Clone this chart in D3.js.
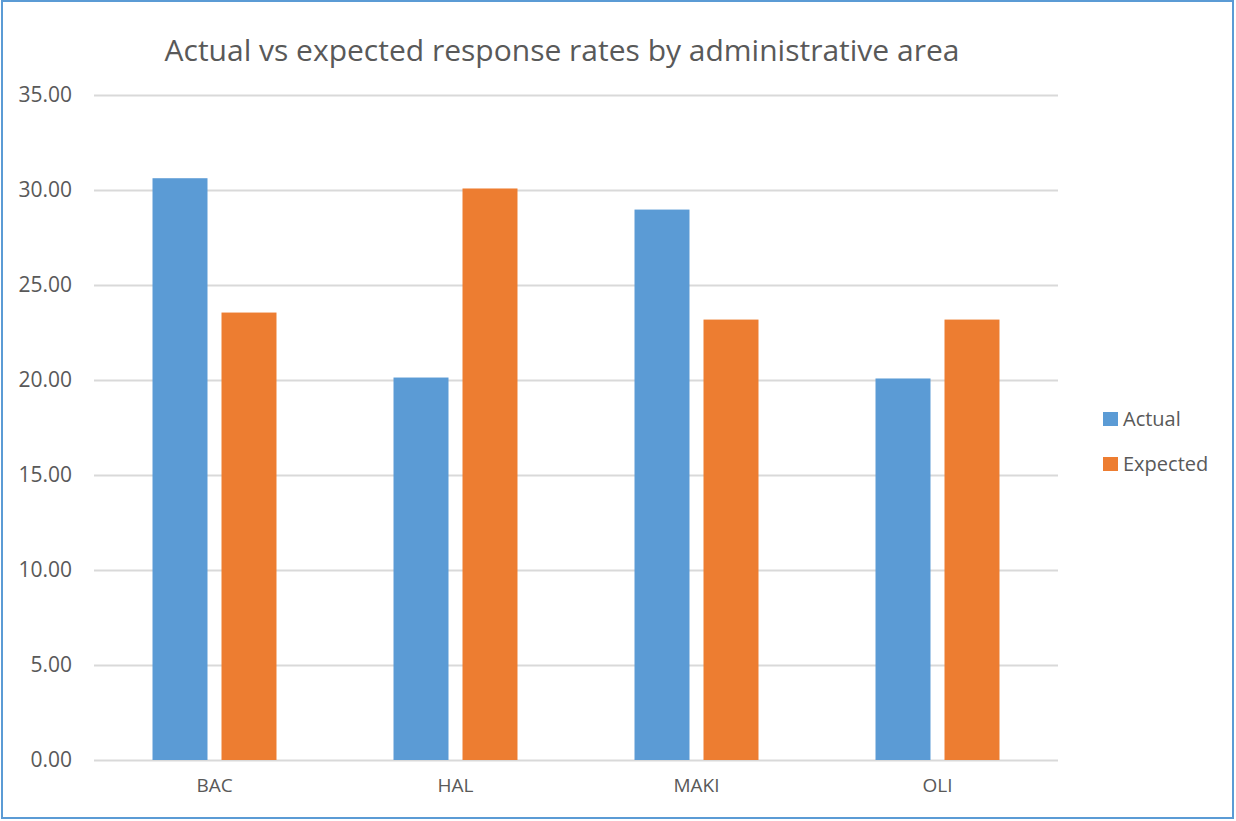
<!DOCTYPE html>
<html>
<head>
<meta charset="utf-8">
<script src="https://cdn.jsdelivr.net/npm/d3@7"></script>
<style>
  body { margin: 0; background: #fff; }
  svg { display: block; font-family: "Open Sans", sans-serif; }
</style>
</head>
<body>
<div id="chart"></div>
<script>
// data
var categories = ["BAC", "HAL", "MAKI", "OLI"];
var seriesNames = ["Actual", "Expected"];
var actual = [30.62, 20.13, 28.97, 20.08];
var expected = [23.55, 30.08, 23.18, 23.18];
var yTicks = [0, 5, 10, 15, 20, 25, 30, 35];

var colors = {"Actual": "#5b9bd5", "Expected": "#ed7d31"};
var width = 1236, height = 821;
var margin = {top: 95, right: 178, bottom: 61, left: 94};

var data = categories.map(function(c, i) {
    return {category: c, Actual: actual[i], Expected: expected[i]};
});

var svg = d3.select("#chart")
    .append("svg")
    .attr("width", width)
    .attr("height", height);

// outer frame
svg.append("rect")
    .attr("x", 2).attr("y", 1)
    .attr("width", 1231).attr("height", 817)
    .attr("fill", "#fff")
    .attr("stroke", "#5b9bd5")
    .attr("stroke-width", 2);

var x0 = d3.scaleBand()
    .domain(categories)
    .range([margin.left, width - margin.right])
    .padding(0);

var x1 = d3.scaleBand()
    .domain(seriesNames)
    .range([0, x0.bandwidth()])
    .paddingInner(0.203)
    .paddingOuter(0.848);

var y = d3.scaleLinear()
    .domain([0, 35])
    .range([height - margin.bottom, margin.top]);

// gridlines + y labels
var yAxis = svg.append("g")
    .attr("transform", "translate(" + margin.left + ",0)")
    .call(d3.axisLeft(y).tickValues(yTicks).tickFormat(d3.format(".2f"))
        .tickSize(-(width - margin.left - margin.right)).tickPadding(22));
yAxis.attr("font-family", null).attr("font-size", null);
yAxis.select(".domain").remove();
yAxis.selectAll("line").attr("stroke", "#d9d9d9").attr("stroke-width", 2);
yAxis.selectAll("text")
    .attr("fill", "#595959")
    .style("font-size", "21px");

// x labels
var xAxis = svg.append("g")
    .attr("transform", "translate(0," + (height - margin.bottom) + ")")
    .call(d3.axisBottom(x0).tickSize(0).tickPadding(19));
xAxis.attr("font-family", null).attr("font-size", null);
xAxis.select(".domain").remove();
xAxis.selectAll("text")
    .attr("fill", "#595959")
    .style("font-size", "19px");

// bars
svg.append("g")
    .selectAll("g")
    .data(data)
    .enter().append("g")
    .attr("transform", function(d) { return "translate(" + x0(d.category) + ",0)"; })
    .selectAll("rect")
    .data(function(d) { return seriesNames.map(function(k) { return {key: k, value: d[k]}; }); })
    .enter().append("rect")
    .attr("x", function(d) { return x1(d.key); })
    .attr("y", function(d) { return y(d.value); })
    .attr("width", x1.bandwidth())
    .attr("height", function(d) { return y(0) - y(d.value); })
    .attr("fill", function(d) { return colors[d.key]; });

// title
svg.append("text")
    .attr("x", 562)
    .attr("y", 61)
    .attr("text-anchor", "middle")
    .attr("fill", "#595959")
    .style("font-size", "30px")
    .text("Actual vs expected response rates by administrative area");

// legend
var legend = svg.append("g")
    .selectAll("g")
    .data(seriesNames)
    .enter().append("g")
    .attr("transform", function(d, i) { return "translate(1103," + (412 + i * 45) + ")"; });
legend.append("rect")
    .attr("width", 15).attr("height", 14)
    .attr("fill", function(d) { return colors[d]; });
legend.append("text")
    .attr("x", 20).attr("y", 14)
    .attr("fill", "#595959")
    .style("font-size", "20px")
    .text(function(d) { return d; });
</script>
</body>
</html>
